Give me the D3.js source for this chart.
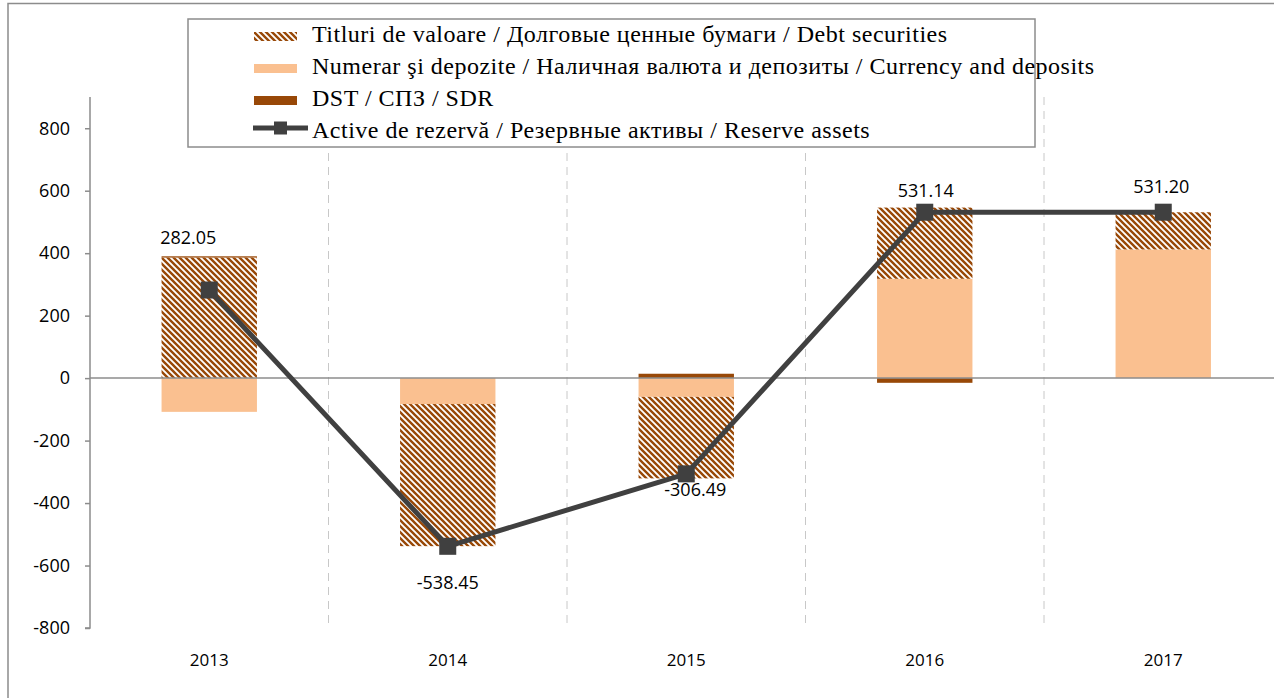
<!DOCTYPE html>
<html>
<head>
<meta charset="utf-8">
<script src="https://cdn.jsdelivr.net/npm/d3@7"></script>
<style>
  body { margin: 0; background: #fff; }
  svg { display: block; }
</style>
</head>
<body>
<svg id="chart"></svg>
<script>
// data
const years = ["2013", "2014", "2015", "2016", "2017"];
const debtSecurities = [386, -455, -261, 228, 119];
const currencyDeposits = [-108, -83, -60, 318, 412];
const sdr = [4, 0, 14, -15, 0];
const reserveAssets = [282.05, -538.45, -306.49, 531.14, 531.2];
const yTicks = [-800, -600, -400, -200, 0, 200, 400, 600, 800];
const legendLabels = [
  "Titluri de valoare / Долговые ценные бумаги / Debt securities",
  "Numerar şi depozite / Наличная валюта и депозиты / Currency and deposits",
  "DST / СПЗ / SDR",
  "Active de rezervă / Резервные активы / Reserve assets"
];

const width = 1274;
const height = 698;
const brown = "#984807";
const peach = "#FAC090";
const lineColor = "#404040";

// plain hyphen for negatives, like the original
const fmtInt = (d) => String(d);
const fmt2 = (d) => d.toFixed(2);

const svg = d3.select("#chart").attr("width", width).attr("height", height);

// hatch pattern (wide downward diagonal)
const defs = svg.append("defs");
const pat = defs.append("pattern")
  .attr("id", "hatch")
  .attr("patternUnits", "userSpaceOnUse")
  .attr("width", 6)
  .attr("height", 6);
pat.append("rect").attr("width", 6).attr("height", 6).attr("fill", "#fff");
pat.append("path")
  .attr("d", "M-1,-7 L7,1 M-1,-1 L7,7 M-1,5 L7,13")
  .attr("stroke", brown)
  .attr("stroke-width", 2.4);

// outer frame
svg.append("path")
  .attr("d", "M8,700 L8,3.5 L1280,3.5")
  .attr("fill", "none")
  .attr("stroke", "#8c8c8c")
  .attr("stroke-width", 1.5);

// scales
let x = d3.scaleBand().domain(years).range([90, 1282.5]).padding(0);
let y = d3.scaleLinear().domain([-800, 900]).range([628, 97]);
const barW = x.bandwidth() * 0.4;

// vertical dashed gridlines between categories
svg.append("g")
  .selectAll("line")
  .data(years.slice(1))
  .enter()
  .append("line")
  .attr("x1", (d) => x(d))
  .attr("x2", (d) => x(d))
  .attr("y1", y(900))
  .attr("y2", y(-800))
  .attr("stroke", "#c8c8c8")
  .attr("stroke-width", 1)
  .attr("stroke-dasharray", "8,6");

// y axis
let yAxis = svg.append("g")
  .attr("transform", "translate(90,0)")
  .call(d3.axisLeft(y).tickValues(yTicks).tickSize(5).tickPadding(15).tickFormat(fmtInt));
yAxis.select(".domain").attr("stroke", "#8c8c8c").attr("stroke-width", 1.5)
  .attr("d", "M-5," + y(-800) + "H0V" + y(900));
yAxis.selectAll(".tick line").attr("stroke", "#8c8c8c").attr("stroke-width", 1.5);
yAxis.selectAll(".tick text")
  .attr("font-family", "'Open Sans', sans-serif")
  .attr("font-size", 18)
  .attr("fill", "#000");

// stacked bars
let rows = years.map((yr, i) => ({
  year: yr,
  currency: currencyDeposits[i],
  debt: debtSecurities[i],
  sdr: sdr[i]
}));
let stack = d3.stack()
  .keys(["currency", "debt", "sdr"])
  .offset(d3.stackOffsetDiverging);
let series = stack(rows);
let fills = { currency: peach, debt: "url(#hatch)", sdr: brown };

svg.append("g")
  .selectAll("g")
  .data(series)
  .enter()
  .append("g")
  .attr("fill", (s) => fills[s.key])
  .selectAll("rect")
  .data((s) => s)
  .enter()
  .append("rect")
  .attr("x", (d) => x(d.data.year) + x.bandwidth() / 2 - barW / 2)
  .attr("width", barW)
  .attr("y", (d) => y(Math.max(d[0], d[1])))
  .attr("height", (d) => Math.abs(y(d[0]) - y(d[1])));

// zero line
svg.append("line")
  .attr("x1", 90)
  .attr("x2", 1282)
  .attr("y1", y(0))
  .attr("y2", y(0))
  .attr("stroke", "#8c8c8c")
  .attr("stroke-width", 1.5);

// x labels
svg.append("g")
  .selectAll("text")
  .data(years)
  .enter()
  .append("text")
  .attr("x", (d) => x(d) + x.bandwidth() / 2)
  .attr("y", 666)
  .attr("text-anchor", "middle")
  .attr("font-family", "'Open Sans', sans-serif")
  .attr("font-size", 17)
  .text((d) => d);

// reserve assets line
let cx = (i) => x(years[i]) + x.bandwidth() / 2;
let line = d3.line()
  .x((d, i) => cx(i))
  .y((d) => y(d));
svg.append("path")
  .datum(reserveAssets)
  .attr("d", line)
  .attr("fill", "none")
  .attr("stroke", lineColor)
  .attr("stroke-width", 5)
  .attr("stroke-linejoin", "round");

svg.append("g")
  .selectAll("rect")
  .data(reserveAssets)
  .enter()
  .append("rect")
  .attr("x", (d, i) => cx(i) - 8.5)
  .attr("y", (d) => y(d) - 8.5)
  .attr("width", 17)
  .attr("height", 17)
  .attr("fill", lineColor);

// data labels (manually placed, like the original)
const labelShift = [[-21, -52], [0, 36], [9, 16], [1, -22], [-2, -25]];
svg.append("g")
  .selectAll("text")
  .data(reserveAssets)
  .enter()
  .append("text")
  .attr("x", (d, i) => cx(i) + labelShift[i][0])
  .attr("y", (d, i) => y(d) + labelShift[i][1])
  .attr("dy", "0.35em")
  .attr("text-anchor", "middle")
  .attr("font-family", "'Open Sans', sans-serif")
  .attr("font-size", 18)
  .text((d) => fmt2(d));

// legend
let lg = svg.append("g");
lg.append("rect")
  .attr("x", 188)
  .attr("y", 19)
  .attr("width", 847)
  .attr("height", 128)
  .attr("fill", "#fff")
  .attr("stroke", "#8c8c8c")
  .attr("stroke-width", 1.5);

let items = lg.selectAll("g.item")
  .data(legendLabels)
  .enter()
  .append("g")
  .attr("class", "item")
  .attr("transform", (d, i) => "translate(0," + (42 + i * 32) + ")");

items.append("text")
  .attr("x", 312)
  .attr("y", 0)
  .attr("font-family", "'Liberation Serif', serif")
  .attr("font-size", 24)
  .attr("letter-spacing", 0.5)
  .text((d) => d);

items.filter((d, i) => i < 3)
  .append("rect")
  .attr("x", 254)
  .attr("y", -10)
  .attr("width", 43)
  .attr("height", 9)
  .attr("fill", (d, i) => ["url(#hatch)", peach, brown][i]);

let lineItem = items.filter((d, i) => i === 3);
lineItem.append("line")
  .attr("x1", 253)
  .attr("x2", 308)
  .attr("y1", -10)
  .attr("y2", -10)
  .attr("stroke", lineColor)
  .attr("stroke-width", 5);
lineItem.append("rect")
  .attr("x", 274)
  .attr("y", -16.5)
  .attr("width", 13)
  .attr("height", 13)
  .attr("fill", lineColor);
</script>
</body>
</html>
